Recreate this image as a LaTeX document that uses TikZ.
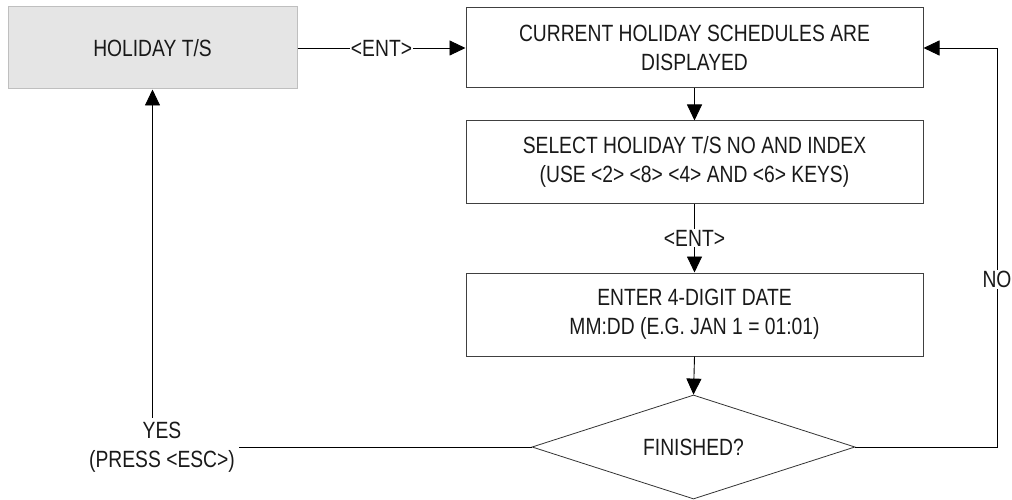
\documentclass[tikz,border=0pt]{standalone}
\usepackage{fontspec}
\setmainfont[FakeStretch=0.82]{Liberation Sans}
\usetikzlibrary{shapes.geometric,arrows.meta}
\begin{document}
\begin{tikzpicture}[x=1pt,y=-1pt,
  font=\fontsize{23.5}{29}\selectfont,
  every node/.style={text=black!90},
  box/.style={draw=black!75,line width=1pt,rectangle,inner sep=0pt,
    minimum width=457pt,align=center},
  startbox/.style={draw=black!25,fill=black!10,line width=1pt,rectangle,
    inner sep=0pt,minimum width=289pt,minimum height=82pt},
  decision/.style={draw=black!80,line width=0.8pt,diamond,inner sep=0pt,
    minimum width=323pt,minimum height=104pt,aspect=3.1},
  arr/.style={line width=0.9pt,-{Triangle[length=16pt,width=15pt]}},
  plain/.style={line width=0.9pt},
  lbl/.style={fill=white,inner sep=1pt}]
\useasboundingbox (0,0) rectangle (1012,500);

\node[startbox] (hol) at (152.5,48) {HOLIDAY T/S};
\node[box,minimum height=80pt] (cur) at (694.5,48)
  {CURRENT HOLIDAY SCHEDULES ARE\\DISPLAYED};
\node[box,minimum height=82pt] (sel) at (694.5,162)
  {SELECT HOLIDAY T/S NO AND INDEX\\(USE <2> <8> <4> AND <6> KEYS)};
\node[box,minimum height=83pt] (ent) at (694.5,314.5)
  {ENTER 4-DIGIT DATE\\MM:DD (E.G. JAN 1 = 01:01)};
\node[decision] (fin) at (693.5,447) {FINISHED?};
\node[align=center,inner sep=4pt] (yes) at (162,447) {YES\\(PRESS <ESC>)};
\coordinate (noc) at (997,447);

\draw[arr] (hol.east) -- node[lbl] {<ENT>} (cur.west);
\draw[arr] (cur.south) -- (sel.north);
\draw[arr] (sel.south) -- node[lbl] {<ENT>} (ent.north);
\draw[arr] (ent.south) -- (fin.north);
\draw[plain] (fin.west) -- (yes.east);
\draw[arr] (yes.north -| hol.south) -- (hol.south);
\draw[arr] (fin.east) -- (noc) -- node[lbl,pos=0.42] {NO} (noc |- cur.east) -- (cur.east);
\end{tikzpicture}
\end{document}
